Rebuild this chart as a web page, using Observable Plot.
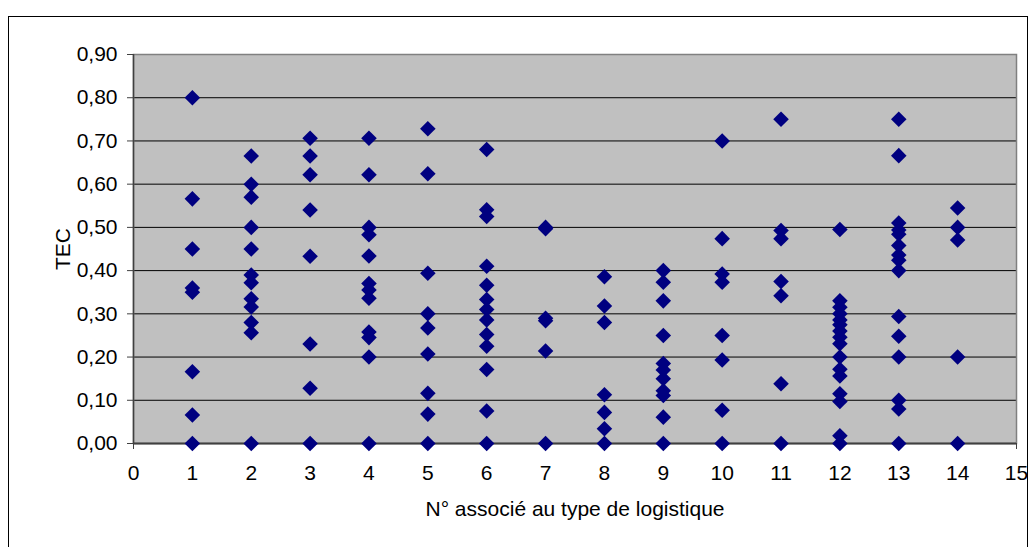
<!DOCTYPE html>
<html>
<head>
<meta charset="utf-8">
<script src="https://cdn.jsdelivr.net/npm/d3@7"></script>
<script src="https://cdn.jsdelivr.net/npm/@observablehq/plot@0.6"></script>
<style>
  html, body { margin: 0; padding: 0; background: #fff; overflow: hidden; }
  #wrap { position: relative; width: 1036px; height: 547px; }
  #border { position: absolute; left: 8px; top: 16px; width: 1020px; height: 560px; border: 1px solid #000; box-sizing: border-box; pointer-events: none; }
  #chart { position: absolute; left: 0; top: 0; }
</style>
</head>
<body>
<div id="wrap"><div id="chart"></div><div id="border"></div></div>
<script>
// TEC values per logistics type (x = 1..14)
const tec1  = [0.80, 0.566, 0.45, 0.36, 0.35, 0.166, 0.066, 0];
const tec2  = [0.665, 0.60, 0.57, 0.50, 0.45, 0.39, 0.372, 0.335, 0.316, 0.28, 0.256, 0];
const tec3  = [0.706, 0.665, 0.622, 0.54, 0.433, 0.23, 0.128, 0];
const tec4  = [0.706, 0.622, 0.50, 0.483, 0.434, 0.37, 0.355, 0.336, 0.258, 0.245, 0.20, 0];
const tec5  = [0.728, 0.624, 0.394, 0.30, 0.267, 0.207, 0.116, 0.068, 0];
const tec6  = [0.68, 0.541, 0.525, 0.41, 0.366, 0.333, 0.31, 0.286, 0.252, 0.225, 0.171, 0.075, 0];
const tec7  = [0.50, 0.497, 0.29, 0.284, 0.214, 0];
const tec8  = [0.386, 0.318, 0.28, 0.113, 0.072, 0.034, 0];
const tec9  = [0.40, 0.373, 0.33, 0.25, 0.185, 0.17, 0.15, 0.122, 0.111, 0.061, 0];
const tec10 = [0.70, 0.474, 0.392, 0.373, 0.25, 0.193, 0.077, 0];
const tec11 = [0.75, 0.493, 0.474, 0.375, 0.342, 0.138, 0];
const tec12 = [0.495, 0.33, 0.315, 0.30, 0.286, 0.275, 0.26, 0.246, 0.231, 0.20, 0.172, 0.156, 0.115, 0.097, 0.018, 0];
const tec13 = [0.75, 0.666, 0.51, 0.494, 0.484, 0.458, 0.436, 0.424, 0.40, 0.294, 0.248, 0.20, 0.10, 0.08, 0];
const tec14 = [0.545, 0.50, 0.471, 0.20, 0];

const series = [tec1, tec2, tec3, tec4, tec5, tec6, tec7, tec8, tec9, tec10, tec11, tec12, tec13, tec14];
const xTicks = d3.range(0, 16);
const yTicks = d3.range(0, 10).map(d => d / 10);
const xLabel = "N° associé au type de logistique";
const yLabel = "TEC";

const data = series.flatMap((vals, i) => vals.map(v => ({type: i + 1, tec: v})));
const fmt = d => d3.format(".2f")(d).replace(".", ",");

const chart = Plot.plot({
  width: 1036,
  height: 547,
  marginLeft: 133,
  marginRight: 20,
  marginTop: 54,
  marginBottom: 104,
  style: {fontFamily: "'Liberation Sans', Arial, sans-serif", fontSize: "21px", color: "#000", background: "transparent"},
  x: {domain: [0, 15]},
  y: {domain: [0, 0.9]},
  marks: [
    Plot.frame({fill: "#c0c0c0", stroke: "none"}),
    Plot.gridY(yTicks.filter(d => d > 0), {stroke: "#000", strokeOpacity: 1, strokeWidth: 1}),
    Plot.frame({stroke: "#808080", strokeWidth: 1.5}),
    Plot.ruleY([0], {stroke: "#404040", strokeWidth: 2}),
    Plot.axisY({ticks: yTicks, tickFormat: fmt, tickSize: 6, tickPadding: 10, stroke: "#404040", fontSize: 21, label: yLabel, labelAnchor: "center", labelOffset: 78, labelArrow: "none"}),
    Plot.axisX({ticks: xTicks, tickFormat: d => String(d), tickSize: 6, tickPadding: 16, stroke: "#404040", fontSize: 21, label: xLabel, labelAnchor: "center", labelOffset: 72, labelArrow: "none"}),
    Plot.ruleX([0], {stroke: "#404040", strokeWidth: 1.5}),
    Plot.dot(data, {x: "type", y: "tec", symbol: "diamond2", r: 7, fill: "#000080", stroke: "none"})
  ]
});
document.getElementById("chart").appendChild(chart);
</script>
</body>
</html>
